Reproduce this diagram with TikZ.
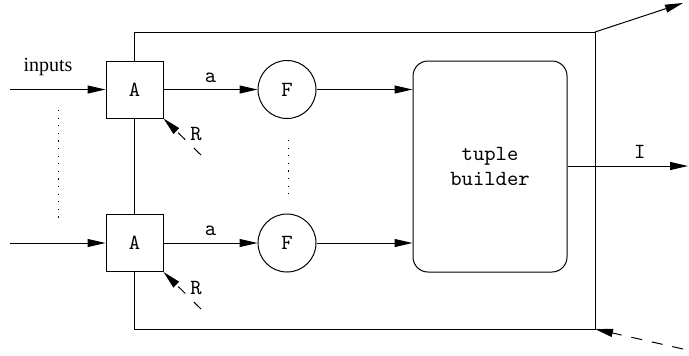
\documentclass[tikz,border=0pt]{standalone}
\usepackage{fontspec}
\setmainfont{Liberation Serif}
\usetikzlibrary{arrows.meta, positioning}

\begin{document}
\begin{tikzpicture}[
    x=0.5pt, y=-0.5pt,
    line width=0.5pt,
    font=\ttfamily\fontsize{10.8}{12.5}\selectfont,
    >={Triangle[length=9pt, width=4pt]},
    unit/.style={rectangle, draw, fill=white, minimum size=28.5pt, inner sep=0pt},
    filt/.style={circle, draw, fill=white, minimum size=29pt, inner sep=0pt},
    builder/.style={rectangle, draw, rounded corners=7.5pt, minimum width=77pt, minimum height=105.5pt, align=center},
    flow/.style={->},
    reset/.style={->, dash pattern=on 5pt off 6pt},
    back/.style={->, dash pattern=on 5.5pt off 5pt},
    dotline/.style={dash pattern=on 0.6pt off 3.2pt}
]
\useasboundingbox (0,0) rectangle (689,355);

% Frame
\coordinate (nw) at (134,32);
\coordinate (ne) at (595,32);
\coordinate (se) at (595,329);
\draw (nw) rectangle (se);

% Units
\node[unit] (A1) at (134.5,89.5) {A};
\node[unit] (A2) at (134.5,243) {A};

% Filters
\node[filt] (F1) at (287,89.5) {F};
\node[filt] (F2) at (287,243) {F};

% Tuple builder
\node[builder] (TB) at (490,166.5) {tuple\\builder};

% Free ends
\coordinate (in1) at (10,89.5);
\coordinate (in2) at (10,243);
\coordinate (r1) at (201,155);
\coordinate (r2) at (201,309);
\coordinate (out) at (688,166);
\coordinate (up) at (683,3);
\coordinate (down) at (683,349);

% Inputs
\node[font=\rmfamily\fontsize{10}{12}\selectfont] (inlbl) at (48,67) {inputs};
\draw[flow] (in1) -- (A1);
\draw[flow] (in2) -- (A2);
\draw[dotline] (58,110) -- (58,220);

% Units to filters
\draw[flow] (A1) -- (F1) node[midway, above] {a};
\draw[flow] (A2) -- (F2) node[midway, above] {a};
\draw[dotline] (288,140) -- (288,196);

% Filters to builder
\draw[flow] (F1) -- (F1 -| TB.west);
\draw[flow] (F2) -- (F2 -| TB.west);

% Resets
\draw[reset] (r1) -- (A1.south east);
\draw[reset] (r2) -- (A2.south east);
\node (R1) at (196,134) {R};
\node (R2) at (196,288) {R};

% Output and feedback
\draw[flow] (TB.east |- out) -- (out) node[pos=0.6, above] {I};
\draw[flow] (ne) -- (up);
\draw[back] (down) -- (se);

\end{tikzpicture}
\end{document}
